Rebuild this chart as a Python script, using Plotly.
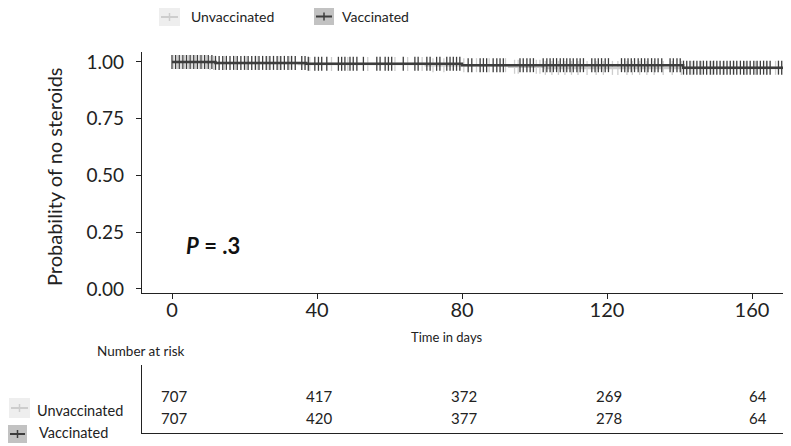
import numpy as np
import plotly.graph_objects as go

# the page body keeps an 8px margin, so the figure is drawn 8px smaller
PAGE_W, PAGE_H, OFF = 791, 446, 8
W, H = PAGE_W - OFF, PAGE_H - OFF
FONT = "Lato"
DARK = "#3d3d3d"
LIGHT = "#cdcdcd"
TXT = "#222222"

# Kaplan-Meier step curves (time in days, survival probability)
vacc_times = [0, 12, 37, 80, 141, 170]
vacc_surv = [1.0, 0.996, 0.992, 0.986, 0.975, 0.975]
unvacc_times = [0, 10, 35, 70, 93, 103, 170]
unvacc_surv = [1.0, 0.996, 0.991, 0.986, 0.979, 0.974, 0.974]

# censoring times
vacc_censor = [0, 1, 2, 3, 4, 5, 6, 7, 8, 9, 10, 11, 12, 13, 14, 15, 16, 17, 18, 19,
               20, 21, 22, 23, 24, 25, 26, 27, 28, 29, 30, 31, 32, 33, 34, 35.8, 36.7,
               37.6, 39.4, 40.4, 41.3, 42.7, 45.9, 46.8, 47.7, 49.1, 50.0, 51.0, 52.8,
               56.5, 57.4, 58.8, 59.7, 60.6, 63.8, 67.0, 67.9, 70.3, 71.2, 73.0, 73.9,
               75.8, 76.7, 77.6, 78.5, 79.4, 81.7, 82.7, 85.0, 85.9, 86.8, 88.6, 89.6,
               90.5, 91.4, 96.0, 96.9, 97.9, 98.8, 99.7, 102.4, 103.4, 104.3, 105.2,
               106.1, 107.1, 108.0, 108.9, 109.8, 110.7, 111.7, 112.6, 113.5, 115.8,
               116.7, 117.6, 118.5, 119.5, 120.4, 124.0, 124.9, 125.8, 126.7, 127.6,
               128.6, 129.5, 130.4, 131.3, 132.3, 133.2, 134.1, 135.1, 137.4, 138.3,
               139.3, 140.2, 141.1, 142.0, 142.9, 143.9, 144.8, 145.7, 146.6, 147.5,
               148.5, 149.4, 150.3, 151.2, 152.2, 153.1, 154.0, 154.9, 155.8, 156.8,
               157.7, 158.6, 159.5, 160.5, 161.4, 162.3, 163.2, 164.1, 165.0, 167.3,
               168.2, 169.1, 170.0]
unvacc_censor = [0.5, 1.5, 2.5, 3.5, 4.5, 5.5, 6.5, 7.5, 8.5, 9.5, 10.5, 11.5, 14.5,
                 17.5, 20.5, 23.5, 26.5, 29.5, 32.5, 38.0, 44.0, 48.5, 54.0, 61.5, 65.0,
                 69.0, 72.0, 75.0, 80.5, 84.0, 87.5, 92.0, 94.5, 95.5, 100.5, 101.5,
                 103.0, 104.8, 106.6, 108.4, 110.2, 112.0, 114.5, 117.0, 119.0, 121.5,
                 123.0, 125.5, 127.0, 129.0, 131.0, 133.0, 135.5, 138.0, 140.5, 143.5,
                 146.0, 149.0, 152.0, 155.0, 158.0, 161.0, 164.0, 166.5, 169.5]

# number at risk table
risk_rows = ["Unvaccinated", "Vaccinated"]
risk_times = [0, 40, 80, 120, 160]
unvacc_risk = [707, 417, 372, 269, 64]
vacc_risk = [707, 420, 377, 278, 64]


def step_value(times, surv, t):
    i = np.searchsorted(times, t, side="right") - 1
    return np.array(surv)[i]


def px_x(p):
    return (p - OFF) / W


def px_y(p):
    return 1 - (p - OFF) / H


fig = go.Figure()

for name, times, surv, cens, col in [
    ("Unvaccinated", unvacc_times, unvacc_surv, unvacc_censor, LIGHT),
    ("Vaccinated", vacc_times, vacc_surv, vacc_censor, DARK),
]:
    fig.add_trace(go.Scatter(x=times, y=surv, mode="lines", line_shape="hv",
                             line=dict(color=col, width=2.5), name=name,
                             xaxis="x", yaxis="y", showlegend=False))
    fig.add_trace(go.Scatter(x=cens, y=step_value(times, surv, np.array(cens)),
                             mode="markers",
                             marker=dict(symbol="line-ns", size=10,
                                         line=dict(color=col, width=1.3)),
                             xaxis="x", yaxis="y", showlegend=False))

x_day0, px_per_day = 172, 3.625
main_range = [(142 - x_day0) / px_per_day, (791 - x_day0) / px_per_day]
table_range = [(142 - x_day0) / px_per_day, (785 - x_day0) / px_per_day]

annotations = []
# risk numbers, right aligned a little past each time point
for row_idx, vals in enumerate([vacc_risk, unvacc_risk]):
    for t, v in zip(risk_times, vals):
        annotations.append(dict(x=t, y=row_idx, xref="x2", yref="y2", text=str(v),
                                showarrow=False, xanchor="right", yanchor="middle",
                                xshift=17, font=dict(family=FONT, size=15, color=TXT)))


def label(x, y, text, size, xanchor="left", **kw):
    annotations.append(dict(x=px_x(x), y=px_y(y), xref="paper", yref="paper",
                            text=text, showarrow=False, xanchor=xanchor,
                            yanchor="middle", font=dict(family=FONT, size=size, color=TXT),
                            **kw))


label(54, 177, "Probability of no steroids", 20, xanchor="center", textangle=-90)
label(447, 337, "Time in days", 13, xanchor="center")
label(141, 351, "Number at risk", 13.5, xanchor="center")
label(189, 17, "Unvaccinated", 14)
label(340, 17, "Vaccinated", 14)
label(35, 410, risk_rows[0], 14.5)
label(37, 432, risk_rows[1], 14.5)

annotations.append(dict(x=3.3, y=0.19, xref="x", yref="y", text="<b><i>P</i> = .3</b>",
                        showarrow=False, xanchor="left", yanchor="middle",
                        font=dict(family=FONT, size=22, color="#111")))

shapes = []


def legend_box(x0, y0, x1, y1, fill, col):
    ym = (y0 + y1) / 2
    xm = (x0 + x1) / 2
    shapes.append(dict(type="rect", xref="paper", yref="paper", x0=px_x(x0), x1=px_x(x1),
                       y0=px_y(y0), y1=px_y(y1), fillcolor=fill, line=dict(width=0),
                       layer="below"))
    shapes.append(dict(type="line", xref="paper", yref="paper", x0=px_x(x0 + 2),
                       x1=px_x(x1 - 2), y0=px_y(ym), y1=px_y(ym),
                       line=dict(color=col, width=2)))
    shapes.append(dict(type="line", xref="paper", yref="paper", x0=px_x(xm), x1=px_x(xm),
                       y0=px_y(ym - 4), y1=px_y(ym + 4), line=dict(color=col, width=1.5)))


legend_box(159, 8, 180, 26, "#eeeeee", LIGHT)
legend_box(314, 8, 334, 25, "#c2c2c2", DARK)
legend_box(9, 398, 30, 418, "#eeeeee", LIGHT)
legend_box(8, 425, 27, 443, "#c2c2c2", DARK)

fig.update_layout(
    width=W, height=H,
    margin=dict(l=0, r=0, t=0, b=0),
    paper_bgcolor="white", plot_bgcolor="white",
    showlegend=False,
    annotations=annotations,
    shapes=shapes,
    xaxis=dict(domain=[px_x(142), 1], range=main_range, tickvals=risk_times,
               ticks="outside", ticklen=5, tickcolor=TXT, showline=True,
               linecolor=TXT, linewidth=1.2, showgrid=False, zeroline=False,
               tickfont=dict(family=FONT, size=20, color=TXT), automargin=False,
               ticklabelstandoff=-6),
    yaxis=dict(domain=[px_y(293), px_y(52)], range=[-0.018, 1.044],
               tickvals=[0, 0.25, 0.5, 0.75, 1.0], tickformat=".2f",
               ticks="outside", ticklen=5, tickcolor=TXT, showline=True,
               linecolor=TXT, linewidth=1.2, showgrid=False, zeroline=False,
               tickfont=dict(family=FONT, size=19, color=TXT), automargin=False,
               ticklabelstandoff=8),
    xaxis2=dict(domain=[px_x(142), px_x(785)], range=table_range, anchor="y2",
                showline=True, linecolor=TXT, linewidth=1.2, showticklabels=False,
                ticks="", showgrid=False, zeroline=False),
    yaxis2=dict(domain=[px_y(433), px_y(365)], range=[-0.68, 2.41], anchor="x2",
                showline=True, linecolor=TXT, linewidth=1.2, showticklabels=False,
                ticks="", showgrid=False, zeroline=False),
)

fig.write_html("out.html")
